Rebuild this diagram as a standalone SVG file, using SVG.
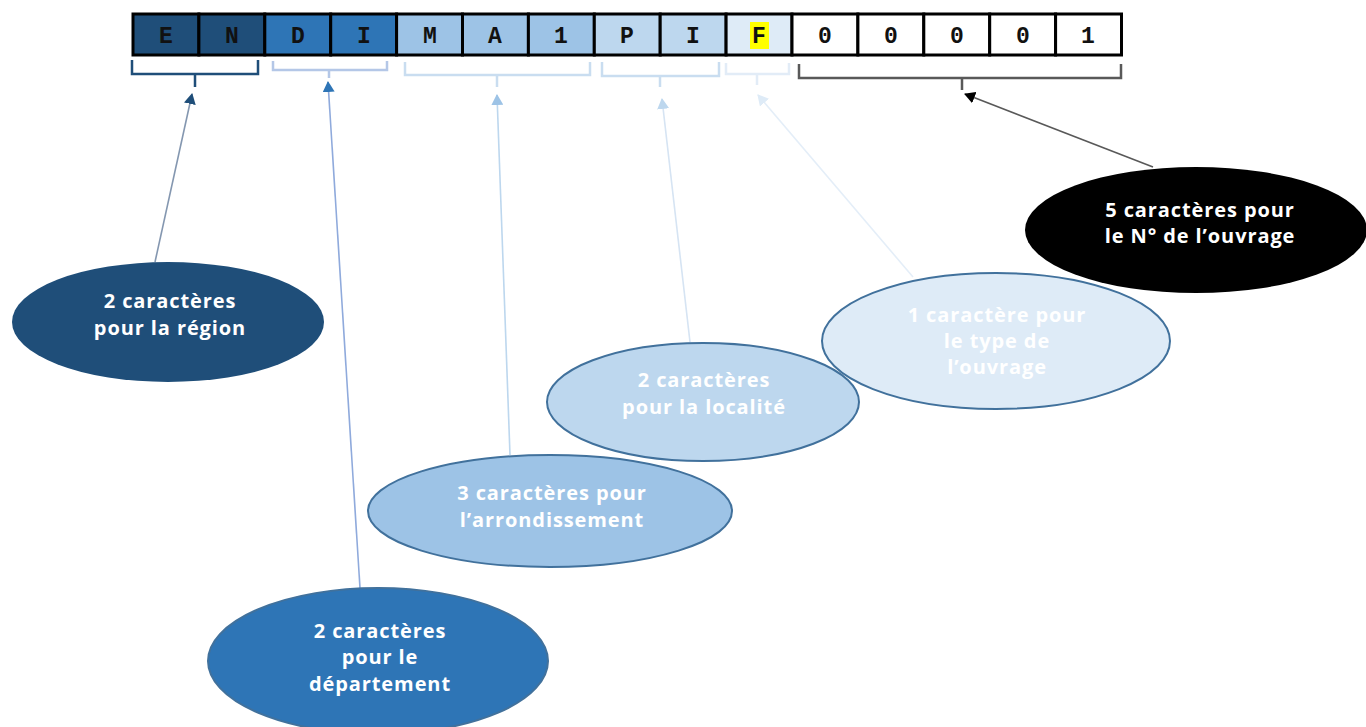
<svg xmlns="http://www.w3.org/2000/svg" width="1366" height="727" viewBox="0 0 1366 727">
<style>
.cell{stroke:#000;stroke-width:3}
.ch{font-family:"Liberation Mono",monospace;font-weight:bold;font-size:23px;text-anchor:middle;fill:#111}
.lbl{font-family:"Open Sans",Lato,sans-serif;font-weight:bold;font-size:20px;letter-spacing:0.9px;text-anchor:middle;fill:#fff}
.br{fill:none;stroke-width:2.5}
.conn{fill:none;stroke-width:1.6}
.ell{stroke:#41719C;stroke-width:2}
</style>
<defs>
<marker id="a1" markerUnits="userSpaceOnUse" markerWidth="12" markerHeight="12" refX="10" refY="6" orient="auto"><path d="M0,0 L11,6 L0,12 z" fill="#1F4E79"/></marker>
<marker id="a2" markerUnits="userSpaceOnUse" markerWidth="12" markerHeight="12" refX="10" refY="6" orient="auto"><path d="M0,0 L11,6 L0,12 z" fill="#2E75B6"/></marker>
<marker id="a3" markerUnits="userSpaceOnUse" markerWidth="12" markerHeight="12" refX="10" refY="6" orient="auto"><path d="M0,0 L11,6 L0,12 z" fill="#9DC3E6"/></marker>
<marker id="a4" markerUnits="userSpaceOnUse" markerWidth="12" markerHeight="12" refX="10" refY="6" orient="auto"><path d="M0,0 L11,6 L0,12 z" fill="#BDD7EE"/></marker>
<marker id="a5" markerUnits="userSpaceOnUse" markerWidth="12" markerHeight="12" refX="10" refY="6" orient="auto"><path d="M0,0 L11,6 L0,12 z" fill="#DEEBF7"/></marker>
<marker id="a6" markerUnits="userSpaceOnUse" markerWidth="12" markerHeight="12" refX="10" refY="6" orient="auto"><path d="M0,0 L11,6 L0,12 z" fill="#000"/></marker>
</defs>
<rect width="1366" height="727" fill="#fff"/>

<g id="code">
<rect class="cell" x="133" y="14" width="65.9" height="41" fill="#1F4E79"/>
<rect class="cell" x="198.9" y="14" width="65.9" height="41" fill="#1F4E79"/>
<rect class="cell" x="264.8" y="14" width="65.9" height="41" fill="#2E75B6"/>
<rect class="cell" x="330.7" y="14" width="65.9" height="41" fill="#2E75B6"/>
<rect class="cell" x="396.6" y="14" width="65.9" height="41" fill="#9DC3E6"/>
<rect class="cell" x="462.5" y="14" width="65.9" height="41" fill="#9DC3E6"/>
<rect class="cell" x="528.4" y="14" width="65.9" height="41" fill="#9DC3E6"/>
<rect class="cell" x="594.3" y="14" width="65.9" height="41" fill="#BDD7EE"/>
<rect class="cell" x="660.2" y="14" width="65.9" height="41" fill="#BDD7EE"/>
<rect class="cell" x="726.1" y="14" width="65.9" height="41" fill="#DEEBF7"/>
<rect class="cell" x="792" y="14" width="65.9" height="41" fill="#fff"/>
<rect class="cell" x="857.9" y="14" width="65.9" height="41" fill="#fff"/>
<rect class="cell" x="923.8" y="14" width="65.9" height="41" fill="#fff"/>
<rect class="cell" x="989.7" y="14" width="65.9" height="41" fill="#fff"/>
<rect class="cell" x="1055.6" y="14" width="65.9" height="41" fill="#fff"/>
<rect x="750" y="22" width="19" height="27" fill="#FFFF00"/>
<text class="ch" x="166" y="43">E</text>
<text class="ch" x="232" y="43">N</text>
<text class="ch" x="298" y="43">D</text>
<text class="ch" x="364" y="43">I</text>
<text class="ch" x="430" y="43">M</text>
<text class="ch" x="495" y="43">A</text>
<text class="ch" x="561" y="43">1</text>
<text class="ch" x="627" y="43">P</text>
<text class="ch" x="693" y="43">I</text>
<text class="ch" x="759" y="43">F</text>
<text class="ch" x="825" y="43">0</text>
<text class="ch" x="891" y="43">0</text>
<text class="ch" x="957" y="43">0</text>
<text class="ch" x="1023" y="43">0</text>
<text class="ch" x="1088" y="43">1</text>
</g>

<g id="braces">
<path class="br" stroke="#1F4E79" d="M132,60 V74 H258 V60 M195,74 V87"/>
<path class="br" stroke="#B4C7E7" d="M273,61 V70 H387 V61 M329,70 V78"/>
<path class="br" stroke="#C9DDF0" d="M405,62 V75 H590 V62 M497,75 V87"/>
<path class="br" stroke="#C9DDF0" d="M602,62 V76 H719 V62 M660,76 V87"/>
<path class="br" stroke="#E2ECF7" d="M726,63 V74 H789 V63 M757,74 V85"/>
<path class="br" stroke="#595959" d="M799,64 V78 H1121 V64 M962,78 V90"/>
</g>

<g id="connectors">
<line class="conn" stroke="#8497B0" x1="155" y1="262" x2="192" y2="94" marker-end="url(#a1)"/>
<line class="conn" stroke="#8FAADC" x1="360" y1="588" x2="328" y2="82" marker-end="url(#a2)"/>
<line class="conn" stroke="#BDD7EE" x1="510" y1="455" x2="497" y2="95" marker-end="url(#a3)"/>
<line class="conn" stroke="#D6E4F3" x1="690" y1="342" x2="662" y2="99" marker-end="url(#a4)"/>
<line class="conn" stroke="#E4EEF8" x1="913" y1="277" x2="758" y2="95" marker-end="url(#a5)"/>
<line class="conn" stroke="#595959" x1="1153" y1="167" x2="965" y2="94" marker-end="url(#a6)"/>
</g>

<g id="node-region">
<ellipse cx="168" cy="322" rx="156" ry="60" fill="#1F4E79"/>
<text class="lbl" x="170" y="308">2 caractères</text>
<text class="lbl" x="170" y="335">pour la région</text>
</g>

<g id="node-departement">
<ellipse class="ell" cx="378" cy="661" rx="170" ry="73" fill="#2E75B6" stroke="#2E6AA6"/>
<text class="lbl" x="380" y="638">2 caractères</text>
<text class="lbl" x="380" y="664">pour le</text>
<text class="lbl" x="380" y="691">département</text>
</g>

<g id="node-arrondissement">
<ellipse class="ell" cx="550" cy="511" rx="182" ry="56" fill="#9DC3E6"/>
<text class="lbl" x="552" y="500">3 caractères pour</text>
<text class="lbl" x="552" y="527">l’arrondissement</text>
</g>

<g id="node-localite">
<ellipse class="ell" cx="703" cy="402" rx="156" ry="59" fill="#BDD7EE"/>
<text class="lbl" x="704" y="387">2 caractères</text>
<text class="lbl" x="704" y="414">pour la localité</text>
</g>

<g id="node-type">
<ellipse class="ell" cx="996" cy="341" rx="174" ry="68" fill="#DEEBF7"/>
<text class="lbl" x="997" y="322">1 caractère pour</text>
<text class="lbl" x="997" y="348">le type de</text>
<text class="lbl" x="997" y="374">l’ouvrage</text>
</g>

<g id="node-numero">
<ellipse cx="1196" cy="230" rx="171" ry="63" fill="#000"/>
<text class="lbl" x="1200" y="217">5 caractères pour</text>
<text class="lbl" x="1200" y="243">le N° de l’ouvrage</text>
</g>
</svg>
